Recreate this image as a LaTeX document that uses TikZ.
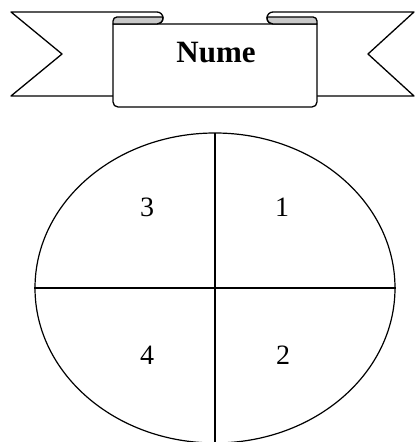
\documentclass[tikz,border=0pt]{standalone}
\usepackage{fontspec}
\setmainfont{Liberation Serif}
\usetikzlibrary{shapes.geometric}
\definecolor{curlgray}{HTML}{C8C8C8}
\tikzset{
  outline/.style={draw=black, line width=1.3pt, line join=round},
  ribbon/.style={outline, fill=white},
  curl/.style={outline, fill=curlgray},
  oval/.style={ellipse, draw=black, line width=1.2pt, minimum width=360pt, minimum height=310pt, inner sep=0pt},
  quadline/.style={line width=1.6pt},
  num/.style={font=\fontsize{28}{28}\selectfont, inner sep=0pt},
  titletext/.style={font=\bfseries\fontsize{31}{31}\selectfont, inner sep=0pt},
}

\begin{document}
\begin{tikzpicture}[x=1pt, y=1pt]
    \useasboundingbox (0,0) rectangle (416,442);
    % ribbon ends behind the banner
    \filldraw[ribbon] (113,346) -- (11,346) -- (62,388) -- (11,430) -- (157,430)
      arc[start angle=90, end angle=-90, radius=6] -- (113,418);
    \filldraw[ribbon] (317,346) -- (414,346) -- (368,388) -- (414,430) -- (273,430)
      arc[start angle=90, end angle=270, radius=6] -- (317,418);
    % front panel
    \filldraw[ribbon] (113,418) -- (113,340) arc[start angle=180, end angle=270, radius=5]
      -- (312,335) arc[start angle=270, end angle=360, radius=5] -- (317,418) -- cycle;
    % rolled corners
    \filldraw[curl] (113,418) -- (113,421) arc[start angle=180, end angle=90, radius=4]
      -- (162.9,425) arc[start angle=9.6, end angle=-90, radius=6] -- cycle;
    \filldraw[curl] (317,418) -- (317,421) arc[start angle=0, end angle=90, radius=4]
      -- (267.1,425) arc[start angle=170.4, end angle=270, radius=6] -- cycle;
    \node[titletext] (title) at (216,389) {Nume};
    % divided oval
    \node[oval] (oval) at (215,154) {};
    \coordinate (top) at (215,309);
    \coordinate (bottom) at (215,0);
    \draw[quadline] (top) -- (bottom);
    \draw[quadline] (oval.west) -- (oval.east);
    \node[num] (q1) at (282,235) {1};
    \node[num] (q2) at (283,87) {2};
    \node[num] (q3) at (147,235) {3};
    \node[num] (q4) at (147,87) {4};
\end{tikzpicture}
\end{document}
